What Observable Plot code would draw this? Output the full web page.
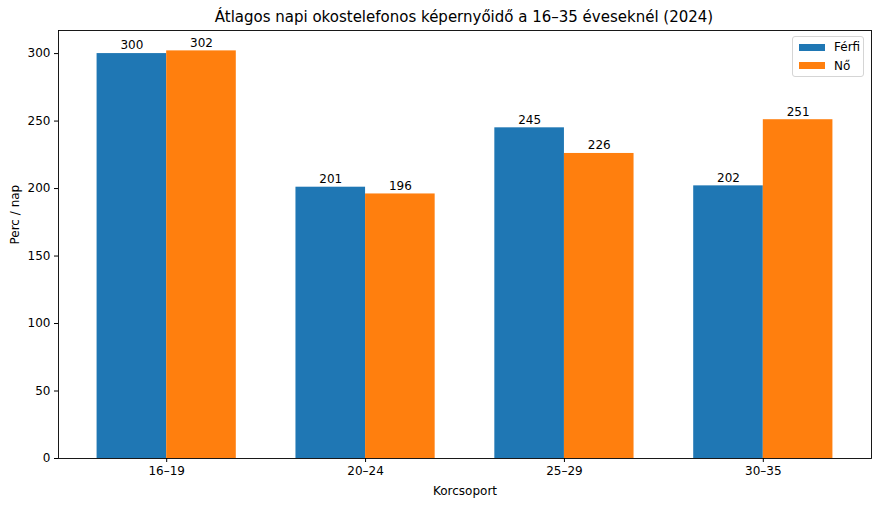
<!DOCTYPE html>
<html><head><meta charset="utf-8">
<script src="https://cdn.jsdelivr.net/npm/d3@7"></script>
<script src="https://cdn.jsdelivr.net/npm/@observablehq/plot@0.6"></script>
<style>
body{margin:0;background:#fff;font-family:"DejaVu Sans",sans-serif;}
#wrap{position:relative;width:880px;height:505px;}
#title{height:29px;line-height:34px;text-align:center;font-size:15px;color:#000;padding-left:48px;box-sizing:border-box;white-space:nowrap;}
#legend{position:absolute;left:792px;top:36px;width:72px;height:41px;border:1px solid #d5d5d5;border-radius:3px;background:rgba(255,255,255,0.8);box-sizing:border-box;font-size:12px;}
.item{position:absolute;left:6px;display:flex;align-items:center;white-space:nowrap;}
.sw{width:26px;height:7px;margin-right:9px;}
</style></head><body>
<div id="wrap"><div id="title">Átlagos napi okostelefonos képernyőidő a 16–35 éveseknél (2024)</div><div id="chart"></div>
<div id="legend"></div></div>
<script>
const groups = ["16–19","20–24","25–29","30–35"];
const ferfi = [300,201,245,202];
const no = [302,196,226,251];
const series = ["Férfi","Nő"];
const colors = ["#1f77b4","#ff7f0e"];

const rows = [];
groups.forEach((g,i)=>{
  rows.push({group:g, i, s:"Férfi", v:ferfi[i], off:-1});
  rows.push({group:g, i, s:"Nő", v:no[i], off:0});
});
const w = 0.35;
const chart = Plot.plot({
  width:880, height:476,
  marginTop:1, marginBottom:47, marginLeft:58, marginRight:9,
  style:{fontFamily:"DejaVu Sans, sans-serif", fontSize:"12px", color:"#000", background:"#fff"},
  x:{type:"linear", domain:[-0.544,3.544]},
  y:{domain:[0,317.1]},
  color:{domain:series, range:colors},
  marks:[
    Plot.rect(rows,{x1:d=>d.i+d.off*w, x2:d=>d.i+(d.off+1)*w, y1:0, y2:"v", fill:"s"}),
    Plot.text(rows,{x:d=>d.i+(d.off+0.5)*w, y:"v", text:d=>String(d.v), dy:-8, fontSize:12, fill:"#000"}),
    Plot.frame({stroke:"#000", strokeWidth:0.9}),
    Plot.axisX({ticks:[0,1,2,3], tickFormat:i=>groups[i], tickSize:4, tickPadding:4, fontSize:12, label:null}),
    Plot.axisY({ticks:[0,50,100,150,200,250,300], tickSize:4, tickPadding:4, fontSize:12, label:null}),
    Plot.text(["Korcsoport"],{frameAnchor:"bottom", dy:36, fontSize:12, fill:"#000"}),
    Plot.text(["Perc / nap"],{frameAnchor:"left", dx:-43, rotate:-90, fontSize:12, fill:"#000"})
  ]
});
document.getElementById("chart").appendChild(chart);
const lg = document.getElementById("legend");
series.forEach((s,k)=>{
  const it = document.createElement("div");
  it.className="item"; it.style.top=(3+k*18.5)+"px";
  it.innerHTML=`<span class="sw" style="background:${colors[k]}"></span><span>${s}</span>`;
  lg.appendChild(it);
});
</script></body></html>
